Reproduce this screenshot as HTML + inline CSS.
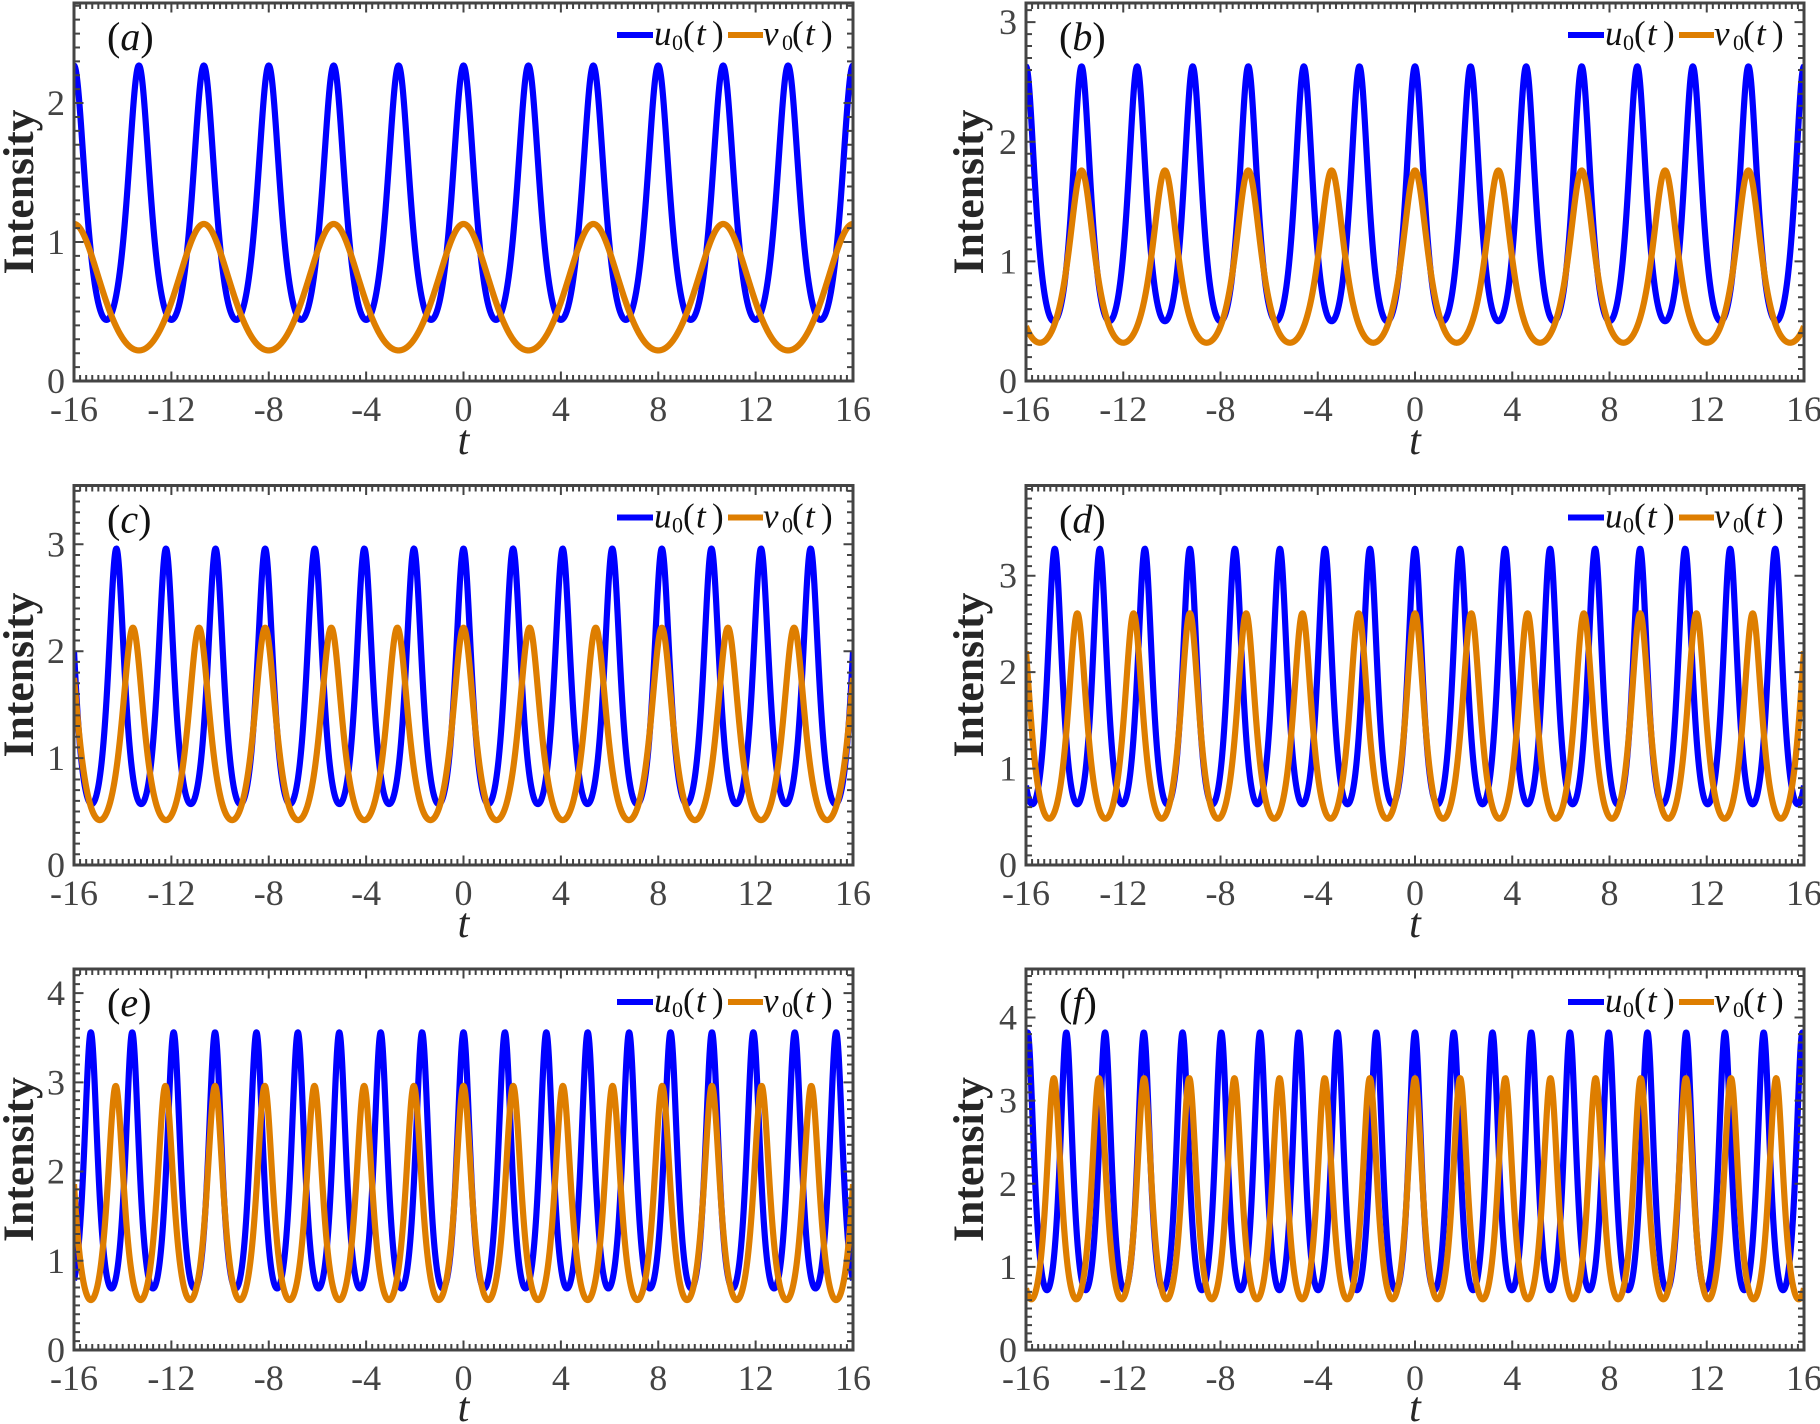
<!DOCTYPE html>
<html>
<head>
<meta charset="utf-8">
<style>
html,body{margin:0;padding:0;background:#fff;}
svg{display:block;}
.tk{font-family:"Liberation Serif",serif;font-size:36px;fill:#444;}
.tx{text-anchor:middle;}
.ty{text-anchor:end;}
.il{font-family:"Liberation Serif",serif;font-size:43px;font-weight:bold;fill:#262626;text-anchor:middle;}
.tl{font-family:"Liberation Serif",serif;font-size:42px;font-style:italic;fill:#262626;text-anchor:middle;}
.lg{font-family:"Liberation Serif",serif;font-size:35px;fill:#111;}
.lg .i{font-style:italic;}
.sb{font-family:"Liberation Serif",serif;font-size:22px;fill:#111;}
.pl{font-family:"Liberation Serif",serif;font-size:40px;fill:#111;}
</style>
</head>
<body>
<svg id="s" width="1820" height="1424" viewBox="0 0 1820 1424" xmlns="http://www.w3.org/2000/svg">
<defs>
<clipPath id="c0"><rect x="74" y="3" width="779" height="378"/></clipPath>
<clipPath id="c1"><rect x="1026" y="3" width="778" height="378"/></clipPath>
<clipPath id="c2"><rect x="74" y="485.5" width="779" height="379.5"/></clipPath>
<clipPath id="c3"><rect x="1026" y="485.5" width="778" height="379.5"/></clipPath>
<clipPath id="c4"><rect x="74" y="969" width="779" height="381"/></clipPath>
<clipPath id="c5"><rect x="1026" y="969" width="778" height="381"/></clipPath>
</defs>
<rect x="0" y="0" width="1820" height="1424" fill="#fff"/>
<g id="curves"></g>
<g id="axes"></g>

<g class="tk tx">
<text x="74" y="421">-16</text><text x="171.4" y="421">-12</text><text x="268.8" y="421">-8</text><text x="366.1" y="421">-4</text><text x="463.5" y="421">0</text><text x="560.9" y="421">4</text><text x="658.3" y="421">8</text><text x="755.6" y="421">12</text><text x="853" y="421">16</text>
<text x="1026" y="421">-16</text><text x="1123.3" y="421">-12</text><text x="1220.5" y="421">-8</text><text x="1317.8" y="421">-4</text><text x="1415" y="421">0</text><text x="1512.3" y="421">4</text><text x="1609.5" y="421">8</text><text x="1706.8" y="421">12</text><text x="1804" y="421">16</text>
<text x="74" y="905">-16</text><text x="171.4" y="905">-12</text><text x="268.8" y="905">-8</text><text x="366.1" y="905">-4</text><text x="463.5" y="905">0</text><text x="560.9" y="905">4</text><text x="658.3" y="905">8</text><text x="755.6" y="905">12</text><text x="853" y="905">16</text>
<text x="1026" y="905">-16</text><text x="1123.3" y="905">-12</text><text x="1220.5" y="905">-8</text><text x="1317.8" y="905">-4</text><text x="1415" y="905">0</text><text x="1512.3" y="905">4</text><text x="1609.5" y="905">8</text><text x="1706.8" y="905">12</text><text x="1804" y="905">16</text>
<text x="74" y="1390">-16</text><text x="171.4" y="1390">-12</text><text x="268.8" y="1390">-8</text><text x="366.1" y="1390">-4</text><text x="463.5" y="1390">0</text><text x="560.9" y="1390">4</text><text x="658.3" y="1390">8</text><text x="755.6" y="1390">12</text><text x="853" y="1390">16</text>
<text x="1026" y="1390">-16</text><text x="1123.3" y="1390">-12</text><text x="1220.5" y="1390">-8</text><text x="1317.8" y="1390">-4</text><text x="1415" y="1390">0</text><text x="1512.3" y="1390">4</text><text x="1609.5" y="1390">8</text><text x="1706.8" y="1390">12</text><text x="1804" y="1390">16</text>
</g>

<g class="tk ty">
<text x="65" y="393">0</text><text x="65" y="254">1</text><text x="65" y="115">2</text>
<text x="1017" y="393">0</text><text x="1017" y="273.4">1</text><text x="1017" y="153.8">2</text><text x="1017" y="34.1">3</text>
<text x="65" y="877">0</text><text x="65" y="770.1">1</text><text x="65" y="663.2">2</text><text x="65" y="556.3">3</text>
<text x="1017" y="877">0</text><text x="1017" y="780.6">1</text><text x="1017" y="684.2">2</text><text x="1017" y="587.7">3</text>
<text x="65" y="1362">0</text><text x="65" y="1272.8">1</text><text x="65" y="1183.5">2</text><text x="65" y="1094.3">3</text><text x="65" y="1005.1">4</text>
<text x="1017" y="1362">0</text><text x="1017" y="1278.9">1</text><text x="1017" y="1195.8">2</text><text x="1017" y="1112.6">3</text><text x="1017" y="1029.5">4</text>
</g>

<text class="il" transform="translate(33,192) rotate(-90)" textLength="165" lengthAdjust="spacingAndGlyphs">Intensity</text>
<text class="il" transform="translate(983,192) rotate(-90)" textLength="165" lengthAdjust="spacingAndGlyphs">Intensity</text>
<text class="il" transform="translate(33,675) rotate(-90)" textLength="165" lengthAdjust="spacingAndGlyphs">Intensity</text>
<text class="il" transform="translate(983,675) rotate(-90)" textLength="165" lengthAdjust="spacingAndGlyphs">Intensity</text>
<text class="il" transform="translate(33,1159.5) rotate(-90)" textLength="165" lengthAdjust="spacingAndGlyphs">Intensity</text>
<text class="il" transform="translate(983,1159.5) rotate(-90)" textLength="165" lengthAdjust="spacingAndGlyphs">Intensity</text>

<text class="tl" x="463.5" y="454">t</text>
<text class="tl" x="1415" y="454">t</text>
<text class="tl" x="463.5" y="937">t</text>
<text class="tl" x="1415" y="937">t</text>
<text class="tl" x="463.5" y="1421">t</text>
<text class="tl" x="1415" y="1421">t</text>

<g class="pl">
<text x="107" y="50">(<tspan font-style="italic">a</tspan>)</text>
<text x="1059" y="50">(<tspan font-style="italic">b</tspan>)</text>
<text x="107" y="532.5">(<tspan font-style="italic">c</tspan>)</text>
<text x="1059" y="532.5">(<tspan font-style="italic">d</tspan>)</text>
<text x="107" y="1016">(<tspan font-style="italic">e</tspan>)</text>
<text x="1059" y="1016">(<tspan font-style="italic">f</tspan>)</text>
</g>

<g>
<line x1="617" y1="35" x2="653" y2="35" stroke="#0000FF" stroke-width="6"/>
<line x1="728" y1="35" x2="763" y2="35" stroke="#DE7E00" stroke-width="6"/>
<text class="lg" y="45"><tspan class="i" x="654">u</tspan><tspan x="683">(</tspan><tspan class="i" x="696">t</tspan><tspan x="712">)</tspan><tspan class="i" x="763">v</tspan><tspan x="792">(</tspan><tspan class="i" x="805">t</tspan><tspan x="821">)</tspan></text>
<text class="sb" y="50"><tspan x="672">0</tspan><tspan x="782">0</tspan></text>
</g>
<g>
<line x1="1568" y1="35" x2="1604" y2="35" stroke="#0000FF" stroke-width="6"/>
<line x1="1679" y1="35" x2="1714" y2="35" stroke="#DE7E00" stroke-width="6"/>
<text class="lg" y="45"><tspan class="i" x="1605">u</tspan><tspan x="1634">(</tspan><tspan class="i" x="1647">t</tspan><tspan x="1663">)</tspan><tspan class="i" x="1714">v</tspan><tspan x="1743">(</tspan><tspan class="i" x="1756">t</tspan><tspan x="1772">)</tspan></text>
<text class="sb" y="50"><tspan x="1623">0</tspan><tspan x="1733">0</tspan></text>
</g>
<g>
<line x1="617" y1="517.5" x2="653" y2="517.5" stroke="#0000FF" stroke-width="6"/>
<line x1="728" y1="517.5" x2="763" y2="517.5" stroke="#DE7E00" stroke-width="6"/>
<text class="lg" y="527.5"><tspan class="i" x="654">u</tspan><tspan x="683">(</tspan><tspan class="i" x="696">t</tspan><tspan x="712">)</tspan><tspan class="i" x="763">v</tspan><tspan x="792">(</tspan><tspan class="i" x="805">t</tspan><tspan x="821">)</tspan></text>
<text class="sb" y="532.5"><tspan x="672">0</tspan><tspan x="782">0</tspan></text>
</g>
<g>
<line x1="1568" y1="517.5" x2="1604" y2="517.5" stroke="#0000FF" stroke-width="6"/>
<line x1="1679" y1="517.5" x2="1714" y2="517.5" stroke="#DE7E00" stroke-width="6"/>
<text class="lg" y="527.5"><tspan class="i" x="1605">u</tspan><tspan x="1634">(</tspan><tspan class="i" x="1647">t</tspan><tspan x="1663">)</tspan><tspan class="i" x="1714">v</tspan><tspan x="1743">(</tspan><tspan class="i" x="1756">t</tspan><tspan x="1772">)</tspan></text>
<text class="sb" y="532.5"><tspan x="1623">0</tspan><tspan x="1733">0</tspan></text>
</g>
<g>
<line x1="617" y1="1002" x2="653" y2="1002" stroke="#0000FF" stroke-width="6"/>
<line x1="728" y1="1002" x2="763" y2="1002" stroke="#DE7E00" stroke-width="6"/>
<text class="lg" y="1012"><tspan class="i" x="654">u</tspan><tspan x="683">(</tspan><tspan class="i" x="696">t</tspan><tspan x="712">)</tspan><tspan class="i" x="763">v</tspan><tspan x="792">(</tspan><tspan class="i" x="805">t</tspan><tspan x="821">)</tspan></text>
<text class="sb" y="1017"><tspan x="672">0</tspan><tspan x="782">0</tspan></text>
</g>
<g>
<line x1="1568" y1="1002" x2="1604" y2="1002" stroke="#0000FF" stroke-width="6"/>
<line x1="1679" y1="1002" x2="1714" y2="1002" stroke="#DE7E00" stroke-width="6"/>
<text class="lg" y="1012"><tspan class="i" x="1605">u</tspan><tspan x="1634">(</tspan><tspan class="i" x="1647">t</tspan><tspan x="1663">)</tspan><tspan class="i" x="1714">v</tspan><tspan x="1743">(</tspan><tspan class="i" x="1756">t</tspan><tspan x="1772">)</tspan></text>
<text class="sb" y="1017"><tspan x="1623">0</tspan><tspan x="1733">0</tspan></text>
</g>
</svg>

<script>
(function(){
var NS="http://www.w3.org/2000/svg";
var P=[
{x0:74,x1:853,y0:3,y1:381,ym:2.72,cp:'c0',u:{T:8/3,mx:2.27,mn:0.44,r:0.22},v:{T:16/3,mx:1.13,mn:0.22,r:0.12}},
{x0:1026,x1:1804,y0:3,y1:381,ym:3.16,cp:'c1',u:{T:16/7,mx:2.63,mn:0.5,r:0.25},v:{T:24/7,mx:1.76,mn:0.32,r:0.28}},
{x0:74,x1:853,y0:485.5,y1:865,ym:3.55,cp:'c2',u:{T:2.037,mx:2.96,mn:0.57,r:0.25},v:{T:2.716,mx:2.22,mn:0.42,r:0.25}},
{x0:1026,x1:1804,y0:485.5,y1:865,ym:3.936,cp:'c3',u:{T:1.852,mx:3.28,mn:0.63,r:0.25},v:{T:2.315,mx:2.61,mn:0.48,r:0.25}},
{x0:74,x1:853,y0:969,y1:1350,ym:4.27,cp:'c4',u:{T:1.701,mx:3.56,mn:0.69,r:0.25},v:{T:2.041,mx:2.96,mn:0.56,r:0.25}},
{x0:1026,x1:1804,y0:969,y1:1350,ym:4.584,cp:'c5',u:{T:1.5935,mx:3.82,mn:0.72,r:0.25},v:{T:1.857,mx:3.27,mn:0.61,r:0.25}}
];
function f(t,s){
  var phi=2*Math.PI*t/s.T, r=s.r;
  var p=(1-r*r)/(1-2*r*Math.cos(phi)+r*r);
  var pmax=(1+r)/(1-r), pmin=(1-r)/(1+r);
  return s.mn+(s.mx-s.mn)*(p-pmin)/(pmax-pmin);
}
var cg=document.getElementById('curves'), ag=document.getElementById('axes');
P.forEach(function(p){
  var W=p.x1-p.x0, H=p.y1-p.y0;
  function X(t){return p.x0+(t+16)/32*W;}
  function Y(v){return p.y1-v/p.ym*H;}
  var g=document.createElementNS(NS,'g'); g.setAttribute('clip-path','url(#'+p.cp+')');
  [['u','#0000FF'],['v','#DE7E00']].forEach(function(a){
    var s=p[a[0]], N=2400, d='';
    for(var i=0;i<=N;i++){var t=-16+32*i/N; d+=(i?'L':'M')+X(t).toFixed(2)+' '+Y(f(t,s)).toFixed(2);}
    var path=document.createElementNS(NS,'path');
    path.setAttribute('d',d); path.setAttribute('fill','none'); path.setAttribute('stroke',a[1]);
    path.setAttribute('stroke-width','6.2'); path.setAttribute('stroke-linejoin','round'); path.setAttribute('stroke-linecap','butt');
    g.appendChild(path);
  });
  cg.appendChild(g);
  var d='';
  for(var k=0;k<=128;k++){
    var t=-16+k*0.25, x=X(t), L=(k%16===0)?8:4.5;
    d+='M'+x.toFixed(2)+' '+p.y1+'V'+(p.y1-1.5-L).toFixed(2);
    d+='M'+x.toFixed(2)+' '+p.y0+'V'+(p.y0+1.5+L).toFixed(2);
  }
  for(var j=0;j<=Math.floor(p.ym*10+1e-6);j++){
    var v=j/10, y=Y(v), L2=(j%10===0)?8:4.5;
    d+='M'+p.x0+' '+y.toFixed(2)+'H'+(p.x0+1.5+L2).toFixed(2);
    d+='M'+p.x1+' '+y.toFixed(2)+'H'+(p.x1-1.5-L2).toFixed(2);
  }
  var tp=document.createElementNS(NS,'path');
  tp.setAttribute('d',d); tp.setAttribute('stroke','#444'); tp.setAttribute('stroke-width','2'); tp.setAttribute('fill','none');
  ag.appendChild(tp);
  var rc=document.createElementNS(NS,'rect');
  rc.setAttribute('x',p.x0); rc.setAttribute('y',p.y0); rc.setAttribute('width',W); rc.setAttribute('height',H);
  rc.setAttribute('fill','none'); rc.setAttribute('stroke','#444'); rc.setAttribute('stroke-width','3');
  ag.appendChild(rc);
});
})();
</script>
</body>
</html>
